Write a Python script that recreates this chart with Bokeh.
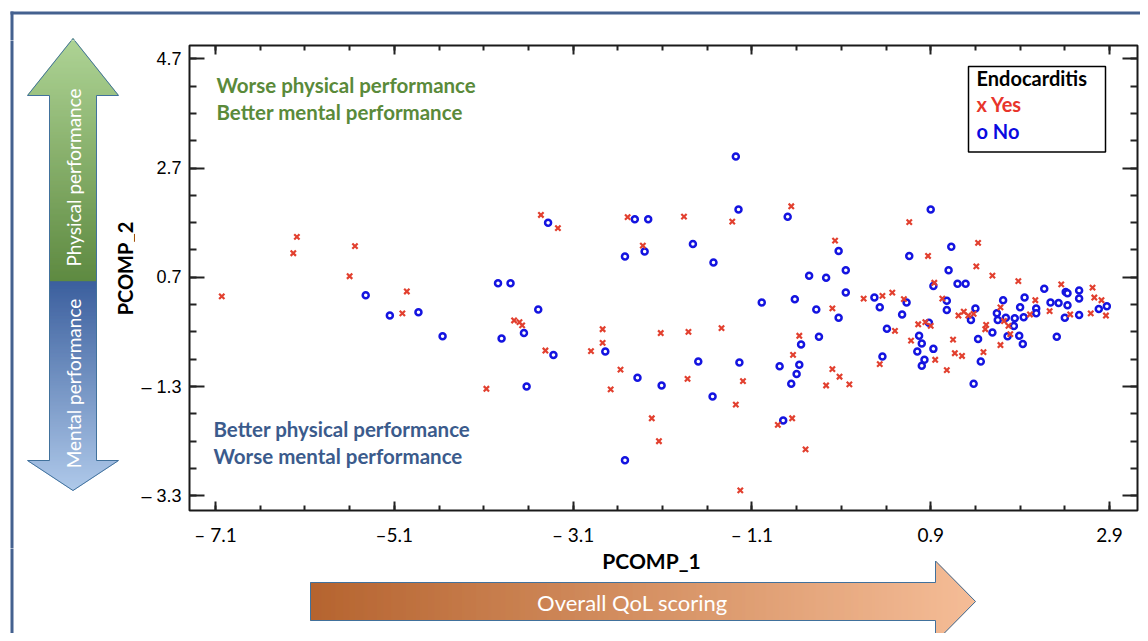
import math
from bokeh.plotting import figure
from bokeh.layouts import column, row
from bokeh.models import Range1d, FixedTicker, LinearAxis, BoxAnnotation, Label, CustomJSTickFormatter
from bokeh.core.properties import value
from bokeh.embed import file_html
from bokeh.resources import INLINE

# ---------------- data ----------------
yes_x = [-7.03, -6.19, -6.23, -5.54, -5.60, -4.96, -5.01, -3.46, -3.27, -2.49, -1.86, -2.32,
         -3.76, -3.70, -3.67, -3.41, -4.07, -2.77, -2.77, -2.90, -2.12, -1.81, -2.57, -2.68,
         -1.82, -2.22, -2.14, -0.66, -1.32, -0.17, 0.15, 0.36, -0.20, -1.44, -0.57, -0.64,
         -1.20, -1.28, -0.20, -0.12, -0.27, -0.01, 0.33, -0.81, -0.65, -0.50, -1.23, 0.66,
         1.43, 0.87, 1.41, 1.59, 0.94, 0.47, 0.60, 1.03, 0.76, 0.84, 0.90, 0.50, 1.21, 1.27,
         1.32, 1.38, 1.52, 1.51, 1.15, 0.68, 1.17, 1.25, 0.95, 1.49, 1.08, 1.88, 2.36, 2.71,
         2.73, 2.81, 2.86, 2.69, 2.07, 2.23, 2.46, 1.68, 1.72, 1.77, 2.01, 1.68, 1.79]
yes_y = [0.35, 1.44, 1.14, 1.27, 0.72, 0.44, 0.04, 1.84, 1.60, 1.80, 1.81, 1.28,
         -0.09, -0.12, -0.18, -0.64, -1.34, -0.25, -0.50, -0.65, -0.32, -0.30, -0.99, -1.35,
         -1.16, -1.88, -2.30, 2.00, 1.72, 1.37, 0.31, 0.36, 0.13, -0.23, -0.37, -0.72,
         -1.20, -1.63, -0.98, -1.12, -1.28, -1.26, -0.89, -2.00, -1.88, -2.45, -3.20, 1.71,
         1.33, 1.09, 0.90, 0.73, 0.60, 0.42, 0.30, 0.31, -0.16, -0.12, -0.19, -0.28, 0.00, 0.07,
         0.00, 0.03, -0.17, -0.25, -0.44, -0.46, -0.69, -0.74, -0.81, -0.67, -1.00, 0.63, 0.57, 0.51,
         0.33, 0.28, 0.00, 0.04, 0.28, 0.08, 0.02, 0.15, -0.10, -0.19, 0.02, -0.54, -0.34]

no_x = [-5.42, -5.15, -4.83, -4.56, -3.38, -2.41, -2.26, -1.76, -2.30, -2.52, -3.94, -3.80,
        -3.49, -3.90, -3.65, -3.32, -3.62, -2.74, -2.38, -2.11, -1.70, -2.52, -1.28, -1.25,
        -0.70, -1.53, -0.13, -0.05, -0.46, -0.27, -0.05, 0.27, 0.33, -0.99, -0.62, -0.38,
        -0.13, 0.41, -0.35, -0.55, -1.24, -0.79, -0.57, -0.60, -0.66, 0.36, -1.54, -0.75,
        0.90, 0.66, 1.13, 1.10, 1.20, 1.29, 0.93, 0.63, 0.58, 1.08, 1.08, 1.40, 1.35, 0.88,
        0.77, 0.80, 0.75, 0.93, 1.43, 0.80, 0.83, 1.46, 1.38, 1.71, 1.95, 2.17, 2.41, 2.43,
        2.56, 2.56, 1.90, 2.08, 2.08, 2.24, 2.33, 2.43, 2.40, 2.56, 1.94, 1.64, 1.65, 1.74,
        1.84, 1.83, 1.59, 1.76, 1.89, 1.93, 2.31, 2.78, 2.87]
no_y = [0.37, 0.00, 0.06, -0.38, 1.70, 1.76, 1.76, 1.31, 1.17, 1.08, 0.59, 0.59,
        0.11, -0.42, -0.32, -0.72, -1.30, -0.66, -1.14, -1.28, -0.84, -2.65, 2.91, 1.94,
        1.81, 0.97, 1.18, 0.83, 0.73, 0.69, 0.42, 0.33, 0.15, 0.24, 0.30, 0.11,
        -0.04, -0.24, -0.39, -0.53, -0.86, -0.93, -0.90, -1.07, -1.25, -0.75, -1.48, -1.92,
        1.94, 1.09, 1.26, 0.83, 0.58, 0.58, 0.54, 0.24, 0.02, 0.27, 0.10, 0.13, -0.08, -0.13,
        -0.37, -0.51, -0.66, -0.61, -0.43, -0.92, -0.81, -0.84, -1.25, 0.28, 0.33, 0.49, 0.43, 0.41,
        0.46, 0.31, 0.15, 0.13, 0.04, 0.24, 0.23, 0.19, -0.04, 0.01, -0.03, 0.04, -0.08, -0.04,
        -0.05, -0.19, -0.31, -0.38, -0.37, -0.52, -0.39, 0.12, 0.17]

x_ticks = [-7.1, -5.1, -3.1, -1.1, 0.9, 2.9]
x_tick_labels = ["\u2013 7.1", "\u20135.1", "\u2013 3.1", "\u2013 1.1", "0.9", "2.9"]
y_ticks = [-3.3, -1.3, 0.7, 2.7, 4.7]
y_tick_labels = ["\u2013 3.3", "\u2013 1.3", "0.7", "2.7", "4.7"]
x_minor = [round(-7.1 + 0.5 * k, 2) for k in range(21)]
y_minor = [round(-3.3 + 0.5 * k, 2) for k in range(17)]

legend_title = "Endocarditis"
legend_yes = "x Yes"
legend_no = "o No"

# ---------------- helpers ----------------
BORDER = "#44618f"
OUTLINE = "#41719c"
W_TOTAL, H_TOP, H_MID, H_BOT = 1140, 40, 508, 85
LEFT_W = 135


def hex2rgb(h):
    h = h.lstrip("#")
    return [int(h[i:i + 2], 16) for i in (0, 2, 4)]


def lerp(c1, c2, t):
    a, b = hex2rgb(c1), hex2rgb(c2)
    return "#%02x%02x%02x" % tuple(int(round(a[i] + (b[i] - a[i]) * t)) for i in range(3))


def deco_fig(w, h, x0, x1, y0, y1):
    f = figure(width=w, height=h, x_range=Range1d(x0, x1), y_range=Range1d(y1, y0),
               x_axis_type=None, y_axis_type=None, output_backend="svg",
               toolbar_location=None, min_border=0, outline_line_color=None,
               frame_align=False)
    f.grid.visible = False
    f.background_fill_color = "white"
    f.border_fill_color = "white"
    return f


# ---------------- main plot ----------------
X0, X1 = -7.391, 3.213
Y0, Y1 = -3.568, 4.942
FL, FR, FT, FB = 189.0, 1137.0, 45.0, 512.0


def dx(px):
    return X0 + (px - FL) / (FR - FL) * (X1 - X0)


def dy(py):
    return Y1 - (py - FT) / (FB - FT) * (Y1 - Y0)


p = figure(width=W_TOTAL - LEFT_W, height=H_MID, x_range=Range1d(X0, X1),
           y_range=Range1d(Y0, Y1), output_backend="svg", toolbar_location=None,
           min_border_left=int(FL - LEFT_W), min_border_right=int(W_TOTAL - FR),
           min_border_top=int(FT - H_TOP), min_border_bottom=int(H_TOP + H_MID - FB),
           frame_align=False)
p.grid.visible = False
p.outline_line_color = "#1a1a1a"
p.outline_line_width = 2
p.background_fill_color = "white"
p.border_fill_color = "white"


def style_axis(ax, tin, mtin):
    ax.axis_line_color = None
    ax.major_tick_in = tin
    ax.major_tick_out = 0
    ax.minor_tick_in = mtin
    ax.minor_tick_out = 0
    ax.major_tick_line_color = "#222222"
    ax.minor_tick_line_color = "#222222"
    ax.major_tick_line_width = 2
    ax.minor_tick_line_width = 2


xa = p.xaxis[0]
xa.ticker = FixedTicker(ticks=x_ticks, minor_ticks=x_minor)
xa.major_label_overrides = dict(zip(x_ticks, x_tick_labels))
xa.major_label_text_font = "Lato"
xa.major_label_text_font_size = "19px"
xa.major_label_text_color = "black"
xa.major_label_standoff = 12
style_axis(xa, 9, 5)

ya = p.yaxis[0]
ya.ticker = FixedTicker(ticks=y_ticks, minor_ticks=y_minor)
ya.major_label_overrides = dict(zip(y_ticks, y_tick_labels))
ya.major_label_text_font = "Liberation Sans"
ya.major_label_text_font_size = "18px"
ya.major_label_text_color = "black"
ya.major_label_standoff = 8
style_axis(ya, 15, 7)

blank = CustomJSTickFormatter(code="return '';")
top_ax = LinearAxis(ticker=FixedTicker(ticks=x_ticks, minor_ticks=x_minor), formatter=blank,
                    major_label_text_font_size="1px", major_label_text_color=None,
                    major_label_standoff=0)
style_axis(top_ax, 9, 5)
p.add_layout(top_ax, "above")
right_ax = LinearAxis(ticker=FixedTicker(ticks=y_ticks, minor_ticks=y_minor), formatter=blank,
                      major_label_text_font_size="1px", major_label_text_color=None,
                      major_label_standoff=0)
style_axis(right_ax, 15, 7)
p.add_layout(right_ax, "right")

p.scatter(no_x, no_y, marker="circle", size=6, line_color="#1414e0", line_width=2.5,
          fill_color="white")
p.scatter(yes_x, yes_y, marker="x", size=7.5, line_color="#e2402f", line_width=2.2)

GREEN_T = "#5a8a3a"
BLUE_T = "#3b5b8c"
for txt, px, py, col in [("Worse physical performance", 216, 85, GREEN_T),
                         ("Better mental performance", 216, 112, GREEN_T),
                         ("Better physical performance", 213, 430, BLUE_T),
                         ("Worse mental performance", 213, 457, BLUE_T)]:
    p.add_layout(Label(x=dx(px), y=dy(py), text=txt, text_align="left", text_baseline="middle",
                       text_font="Lato", text_font_style="bold", text_font_size="20.5px",
                       text_color=col))

p.add_layout(BoxAnnotation(left=dx(968), right=dx(1105), top=dy(66), bottom=dy(152),
                           fill_color="white", fill_alpha=1.0, line_color="black",
                           line_width=1.5, line_alpha=1.0))
for txt, py, col in [(legend_title, 78, "black"), (legend_yes, 104, "#e8352b"),
                     (legend_no, 131, "#0a0ae0")]:
    p.add_layout(Label(x=dx(976), y=dy(py), text=txt, text_align="left", text_baseline="middle",
                       text_font="Lato", text_font_style="bold", text_font_size="20px",
                       text_color=col))

# ---------------- left double arrow (drawn in top strip + left panel) ----------------
AX, TOP, HB1, SPLIT, HB2, BOT = 72.5, 38, 95, 281, 460, 490
HW, SW = 45.5, 23.5


def draw_vertical_arrow(f):
    ys, lefts, rights, cols = [], [], [], []
    for i in range(TOP, BOT):
        yc = i + 0.5
        if yc < HB1:
            w = (yc - TOP) / (HB1 - TOP) * HW
        elif yc <= HB2:
            w = SW
        else:
            w = (BOT - yc) / (BOT - HB2) * HW
        if yc < SPLIT:
            c = lerp("#a9d18e", "#548235", (yc - TOP) / (SPLIT - TOP))
        else:
            c = lerp("#2f5597", "#a9c5e8", (yc - SPLIT) / (BOT - SPLIT))
        ys.append(i)
        lefts.append(AX - w)
        rights.append(AX + w)
        cols.append(c)
    f.quad(left=lefts, right=rights, top=ys, bottom=[v + 1 for v in ys], fill_color=cols,
           line_color=cols, line_width=0.5)
    ox = [AX, AX + HW, AX + SW, AX + SW, AX + HW, AX, AX - HW, AX - SW, AX - SW, AX - HW, AX]
    oy = [TOP, HB1, HB1, HB2, HB2, BOT, HB2, HB2, HB1, HB1, TOP]
    f.patch(ox, oy, fill_color=None, line_color=OUTLINE, line_width=1)


# top strip (full width)
tf = deco_fig(W_TOTAL, H_TOP, 0, W_TOTAL, 0, H_TOP)
draw_vertical_arrow(tf)
tf.line([11.5, 11.5], [11, 700], line_color=BORDER, line_width=3)
tf.line([10, 1200], [12.5, 12.5], line_color=BORDER, line_width=3)

# left panel
lf = deco_fig(LEFT_W, H_MID, 0, LEFT_W, H_TOP, H_TOP + H_MID)
draw_vertical_arrow(lf)
lf.text(x=[AX], y=[177], text=["Physical performance"], angle=math.pi / 2, text_align="center",
        text_baseline="middle", text_color="white", text_font=value("Lato"),
        text_font_size="19px")
lf.text(x=[AX], y=[383], text=["Mental performance"], angle=math.pi / 2, text_align="center",
        text_baseline="middle", text_color="white", text_font=value("Lato"),
        text_font_size="19px")
lf.text(x=[124], y=[268], text=["PCOMP_2"], angle=math.pi / 2, text_align="center",
        text_baseline="middle", text_color="black", text_font=value("Lato"),
        text_font_style="bold", text_font_size="20px")
lf.line([11.5, 11.5], [0, 700], line_color=BORDER, line_width=3)

# ---------------- bottom panel ----------------
Y_B0 = H_TOP + H_MID
bf = deco_fig(W_TOTAL, H_BOT, 0, W_TOTAL, Y_B0, Y_B0 + H_BOT)
BL, BHB, BTIP, BCY, BSH, BHH = 310, 935, 975, 601, 19, 40.5
xs_, b_, t_, c_ = [], [], [], []
for i in range(BL, BTIP):
    xc = i + 0.5
    h = BSH if xc <= BHB else (BTIP - xc) / (BTIP - BHB) * BHH
    xs_.append(i)
    b_.append(BCY + h)
    t_.append(BCY - h)
    c_.append(lerp("#b05a22", "#f4b890", (xc - BL) / (BTIP - BL)))
bf.quad(left=xs_, right=[v + 1 for v in xs_], top=t_, bottom=b_, fill_color=c_,
        line_color=c_, line_width=0.5)
bx = [BL, BHB, BHB, BTIP, BHB, BHB, BL, BL]
by = [BCY - BSH, BCY - BSH, BCY - BHH, BCY, BCY + BHH, BCY + BSH, BCY + BSH, BCY - BSH]
bf.patch(bx, by, fill_color=None, line_color=OUTLINE, line_width=1)
bf.text(x=[632], y=[602], text=["Overall QoL scoring"], text_align="center",
        text_baseline="middle", text_color="white", text_font=value("Lato"),
        text_font_size="22px")
bf.text(x=[651], y=[560], text=["PCOMP_1"], text_align="center", text_baseline="middle",
        text_color="black", text_font=value("Lato"), text_font_style="bold",
        text_font_size="21px")
bf.line([11.5, 11.5], [0, 700], line_color=BORDER, line_width=3)

layout = column(tf, row(lf, p), bf)
open("out.html", "w").write(file_html(layout, INLINE))
